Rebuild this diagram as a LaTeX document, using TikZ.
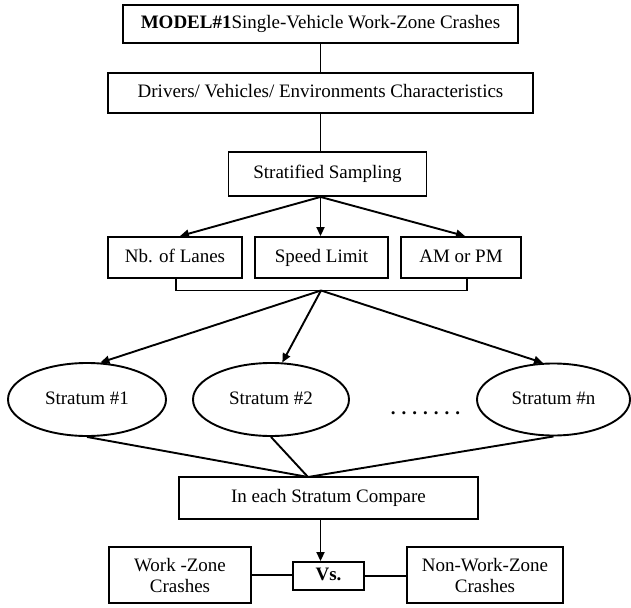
\documentclass[tikz,border=0pt]{standalone}
\usepackage{fontspec}
\setmainfont{Liberation Serif}
\usetikzlibrary{arrows.meta,shapes.geometric,calc}
\begin{document}
\begin{tikzpicture}[x=1pt,y=-1pt,
  every node/.style={font=\fontsize{19}{21}\selectfont, inner sep=0pt, align=center, text height=13pt, text depth=4pt},
  box/.style={draw, line width=1.9pt, rectangle},
  twoline/.style={text height=, text depth=},
  oval/.style={draw, line width=1.9pt, ellipse},
  conn/.style={line width=1.9pt},
  arr/.style={line width=1.9pt, -{Triangle[length=9pt,width=8pt]}}]
\useasboundingbox (0,0) rectangle (631,607);
% top boxes
\node[box, minimum width=395pt, minimum height=38pt] (m1) at (320.5,24) {\textbf{MODEL\#1}Single-Vehicle Work-Zone Crashes};
\node[box, minimum width=425pt, minimum height=40pt] (dv) at (320.5,93) {Drivers/ Vehicles/ Environments Characteristics};
\node[box, minimum width=198pt, minimum height=44pt] (ss) at (327.5,174) {Stratified Sampling};
% three factor boxes
\node[box, minimum width=134pt, minimum height=41pt] (nb) at (175,257.5) {Nb. of Lanes};
\node[box, minimum width=133pt, minimum height=41pt] (sl) at (321.5,257.5) {Speed Limit};
\node[box, minimum width=120pt, minimum height=41pt] (am) at (461,257.5) {AM or PM};
% strata
\node[oval, minimum width=158pt, minimum height=73pt] (e1) at (87,399.5) {Stratum \#1};
\node[oval, minimum width=156pt, minimum height=73pt] (e2) at (271,399.5) {Stratum \#2};
\node[oval, minimum width=153pt, minimum height=72pt] (en) at (553.5,399.5) {Stratum \#n};
\node (dots) at (425.5,410) {\textbf{.\hspace{6pt}.\hspace{6pt}.\hspace{6pt}.\hspace{6pt}.\hspace{6pt}.\hspace{6pt}.}};
% compare
\node[box, minimum width=299pt, minimum height=42pt] (cmp) at (328.5,498) {In each Stratum Compare};
\node[box, minimum width=71pt, minimum height=28pt] (vs) at (328.5,576) {\textbf{Vs.}};
\node[box, twoline, minimum width=142pt, minimum height=56pt] (wz) at (180,575) {Work -Zone\\Crashes};
\node[box, twoline, minimum width=156pt, minimum height=56pt] (nwz) at (485,575) {Non-Work-Zone\\Crashes};
% coordinates
\coordinate (ssb) at (ss.south -| dv.south);
\coordinate (br) at (321,290.5);
\coordinate (cv) at (308,477);
% connectors
\draw[conn] (m1.south) -- (dv.north);
\draw[conn] (dv.south) -- (dv.south |- ss.north);
\draw[arr] (ssb) -- ($(nb.north)+(5,0)$);
\draw[arr] (ssb) -- (ssb |- sl.north);
\draw[arr] (ssb) -- ($(am.north)+(4,0)$);
\draw[conn] ($(nb.south)+(1,0)$) |- (br) -| ($(am.south)+(6,0)$);
\draw[arr] (br) -- (e1.70);
\draw[arr] (br) -- (e2.73);
\draw[arr] (br) -- (en.106);
\draw[conn] (e1.south) -- (cv);
\draw[conn] (e2.south) -- (cv);
\draw[conn] (en.south) -- (cv);
\draw[arr] (cmp.south -| dv.south) -- (vs.north -| dv.south);
\draw[conn] (wz.east) -- (wz.east -| vs.west);
\draw[conn] (vs.east) -- (vs.east -| nwz.west);
\end{tikzpicture}
\end{document}
